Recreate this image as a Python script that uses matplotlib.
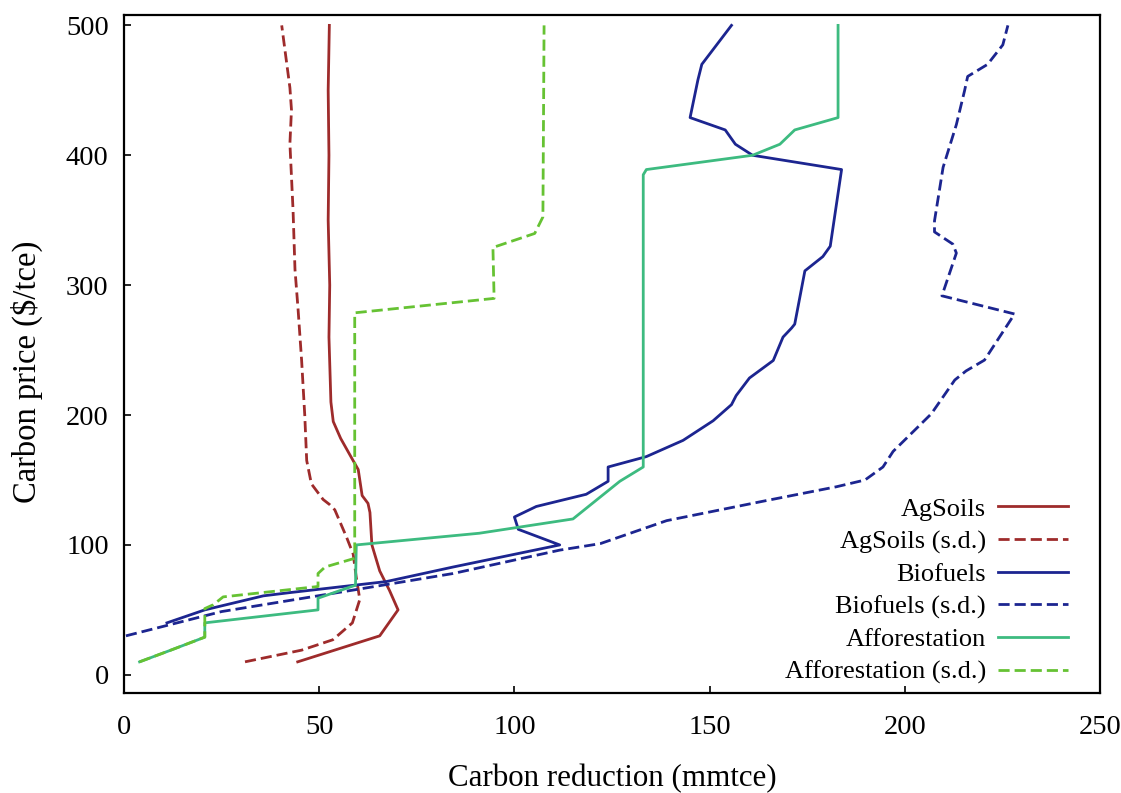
import numpy as np
import matplotlib
matplotlib.use('Agg')
import matplotlib.pyplot as plt

# Values (x = carbon reduction, y = carbon price)
ag_x = [44.5, 65.5, 70.2, 68, 65.5, 63.5, 63, 62.5, 61, 60, 58.3, 55.5, 53.6,
        53, 52.5, 52.7, 52.3, 52.5, 52.3, 52.6]
ag_y = [10, 30, 50, 65, 80, 100, 125, 132, 138, 158, 167, 182, 195,
        210, 260, 300, 350, 400, 450, 500]

ag_sd_x = [31, 45.5, 53.5, 58.5, 60.4, 59.5, 58.7, 57, 54, 52.7, 51, 48, 46.8,
           46.3, 45.5, 44.6, 43.8, 43.3, 42.5, 42.9, 42.5, 40.4]
ag_sd_y = [10, 19, 27, 40, 58, 75, 93, 106, 127, 131, 135, 147, 165,
           200, 242, 281, 312, 358, 409, 435, 452, 500]

bio_x = [11, 20.7, 35.7, 42.5, 67.2, 84.3, 111.6, 101, 100, 105.6, 118.4, 124,
         124, 133.8, 143.2, 150.9, 155.6, 156.8, 160.2, 166.3, 168.8, 171,
         171.8, 174.4, 179, 180.9, 183.8, 161, 156.6, 154, 145, 147, 148, 155.6]
bio_y = [40, 50, 60.8, 63.3, 71.8, 83, 100, 112, 121.5, 129.6, 139, 149,
         160, 168, 180.5, 195.6, 208, 215, 228.5, 242, 260, 267,
         270, 311, 322, 330, 389, 400, 408.5, 419.5, 429, 458, 470, 500]

bio_sd_x = [0.5, 25, 59, 84.3, 111.6, 122, 139, 163.6, 182.5, 189.8, 194.4, 197,
            206.8, 212.8, 215.7, 220.4, 228.1, 209.5, 213.2, 212.3, 207.6, 207.6,
            209.8, 213.2, 215.3, 216.1, 221.2, 225.1, 226.4]
bio_sd_y = [30, 48.7, 65.4, 78, 96, 101, 118.7, 133.6, 144.8, 150, 160, 172,
            201, 227, 234, 242.3, 277.8, 291.8, 324.7, 331.6, 341, 349.5,
            390.7, 423.6, 449.7, 460.7, 470, 485, 500]

aff_x = [4, 12, 20.7, 20.7, 49.7, 49.7, 59.3, 59.5, 91, 115, 127, 133, 133,
         133.8, 161, 168, 171.8, 182.9, 182.9]
aff_y = [10, 19, 29, 40, 50, 59, 69, 100, 109, 120, 149, 160, 385,
         389, 400, 408.5, 419.5, 429, 500]

aff_sd_x = [4, 12, 20.7, 20.7, 22.9, 25.4, 49.7, 49.7, 51.5, 59.1, 59.1, 94.8,
            94.5, 105.2, 107.3, 107.6]
aff_sd_y = [10, 19, 29, 51, 54, 60, 68, 78, 83, 89.7, 278.7, 289.8,
            329, 339.8, 352.5, 500]

plt.rcParams['font.family'] = ['Liberation Serif', 'DejaVu Serif']
plt.rcParams['font.size'] = 21

fig = plt.figure(figsize=(11.21, 7.93), dpi=100)
ax = fig.add_axes([0.1106, 0.1261, 0.8707, 0.855])

lw = 2.0
dash = (4, 1.8)
ax.plot(ag_x, ag_y, color='#9e2b2b', lw=lw, label='AgSoils')
ax.plot(ag_sd_x, ag_sd_y, color='#9e2b2b', lw=lw, dashes=dash, label='AgSoils (s.d.)')
ax.plot(bio_x, bio_y, color='#1c2590', lw=lw, label='Biofuels')
ax.plot(bio_sd_x, bio_sd_y, color='#1c2590', lw=lw, dashes=dash, label='Biofuels (s.d.)')
ax.plot(aff_x, aff_y, color='#3dbb80', lw=lw, label='Afforestation')
ax.plot(aff_sd_x, aff_sd_y, color='#66c233', lw=lw, dashes=dash, label='Afforestation (s.d.)')

ax.set_xlim(0, 250)
ax.set_ylim(-14, 508)
ax.set_xticks(np.arange(0, 251, 50))
ax.set_yticks(np.arange(0, 501, 100))
ax.tick_params(direction='in', length=5, width=1.2, top=False, right=False,
               labelsize=20.5)
ax.tick_params(axis='x', pad=16)
ax.tick_params(axis='y', pad=11)
for s in ax.spines.values():
    s.set_linewidth(1.6)

ax.set_xlabel('Carbon reduction (mmtce)', fontsize=22.3)
ax.set_ylabel(r'Carbon price (\$/tce)', fontsize=23.5)
ax.xaxis.set_label_coords(0.5, -0.105)
ax.yaxis.set_label_coords(-0.083, 0.473)

ax.legend(loc='lower right', bbox_to_anchor=(0.967, 0.013), frameon=False,
          markerfirst=False, handlelength=2.65, handletextpad=0.45,
          labelspacing=0.34, borderpad=0, borderaxespad=0, fontsize=19)

fig.savefig('out.png', dpi=100)
